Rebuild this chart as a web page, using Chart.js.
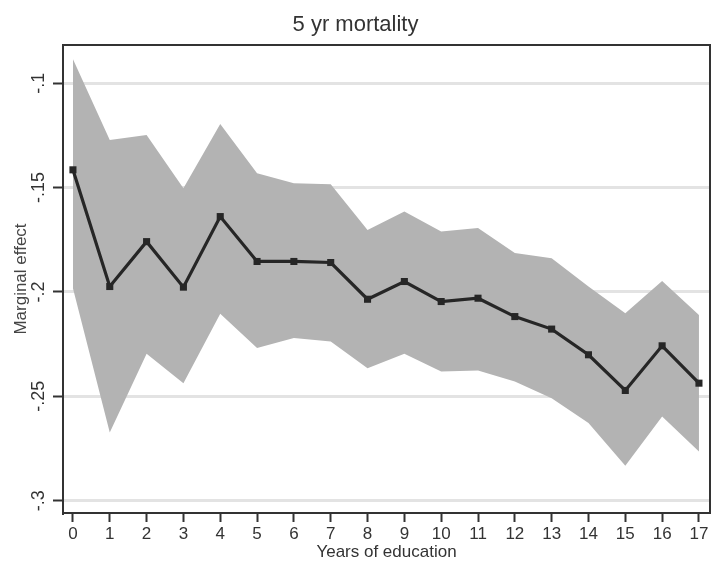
<!DOCTYPE html>
<html>
<head>
<meta charset="utf-8">
<script src="https://cdn.jsdelivr.net/npm/chart.js@4/dist/chart.umd.min.js"></script>
<style>
html,body{margin:0;padding:0;background:#fff;}
#wrap{width:715px;height:570px;position:relative;}
</style>
</head>
<body>
<div id="wrap"><canvas id="c" width="715" height="570"></canvas></div>
<script>
const years = [0,1,2,3,4,5,6,7,8,9,10,11,12,13,14,15,16,17];
const effect = [-0.1415,-0.1974,-0.1759,-0.1977,-0.1639,-0.1854,-0.1854,-0.1859,-0.2035,-0.1950,-0.2046,-0.2030,-0.2118,-0.2178,-0.2301,-0.2472,-0.2258,-0.2437];
const upper = [-0.0885,-0.1272,-0.1248,-0.1503,-0.1195,-0.1431,-0.1479,-0.1484,-0.1703,-0.1615,-0.1711,-0.1694,-0.1814,-0.1838,-0.1974,-0.2102,-0.1947,-0.2110];
const lower = [-0.1982,-0.2673,-0.2296,-0.2437,-0.2105,-0.2269,-0.2221,-0.2238,-0.2365,-0.2296,-0.2381,-0.2376,-0.2429,-0.2509,-0.2628,-0.2833,-0.2597,-0.2764];
const yTicks = [-0.1,-0.15,-0.2,-0.25,-0.3];
const xTicks = years;

const toPts = arr => years.map((x,i)=>({x:x,y:arr[i]}));
const fmt = v => { const s = (Math.round(v*1000)/1000).toString(); return s.replace('0.', '.'); };

const boxPlugin = {
  id:'box',
  afterDraw(chart){
    const a = chart.chartArea, c = chart.ctx;
    c.save();
    c.strokeStyle = '#333';
    c.lineWidth = 2;
    c.strokeRect(a.left, a.top, a.right-a.left, a.bottom-a.top);
    c.restore();
  }
};

new Chart(document.getElementById('c'), {
  type:'line',
  data:{
    datasets:[
      {label:'effect', data:toPts(effect), borderColor:'#262626', backgroundColor:'#262626', borderWidth:3.2,
       pointStyle:'rect', pointRadius:5, pointBorderWidth:0, fill:false, tension:0},
      {label:'upper', data:toPts(upper), borderWidth:0, borderColor:'rgba(0,0,0,0)', pointRadius:0,
       backgroundColor:'#b3b3b3', fill:'+1', tension:0},
      {label:'lower', data:toPts(lower), borderWidth:0, borderColor:'rgba(0,0,0,0)', pointRadius:0,
       fill:false, tension:0}
    ]
  },
  options:{
    responsive:false,
    animation:false,
    layout:{padding:{left:0,right:4,top:0,bottom:0}},
    plugins:{
      legend:{display:false},
      tooltip:{enabled:false},
      title:{display:true, text:'5 yr mortality', color:'#333',
             font:{family:'Liberation Sans', size:22, weight:'normal'}, padding:{top:12,bottom:6.6}}
    },
    scales:{
      x:{
        type:'linear', min:-0.27, max:17.3,
        afterBuildTicks: s => { s.ticks = xTicks.map(v=>({value:v})); },
        afterFit: s => { s.height = 57; },
        grid:{drawOnChartArea:false, drawTicks:true, tickLength:9, tickColor:'#333', tickWidth:2},
        border:{display:true, color:'#333', width:2},
        ticks:{color:'#333', font:{family:'Liberation Sans', size:17}, padding:2, maxRotation:0, minRotation:0,
               callback: v => String(v)},
        title:{display:true, text:'Years of education', color:'#333',
               font:{family:'Liberation Sans', size:17}, padding:{top:0,bottom:7}}
      },
      y:{
        type:'linear', min:-0.3059, max:-0.0817,
        afterBuildTicks: s => { s.ticks = yTicks.map(v=>({value:v})); },
        afterFit: s => { s.width = 63; },
        grid:{drawOnChartArea:true, color:'#e3e3e3', lineWidth:3, drawTicks:true, tickLength:10, tickColor:'#333', tickWidth:2},
        border:{display:true, color:'#333', width:2},
        ticks:{color:'#333', font:{family:'Liberation Sans', size:18}, padding:-2, minRotation:90, maxRotation:90,
               crossAlign:'center', callback: v => fmt(v)},
        title:{display:true, text:'Marginal effect', color:'#444',
               font:{family:'Liberation Sans', size:17}, padding:{top:11,bottom:0}}
      }
    }
  },
  plugins:[boxPlugin]
});
</script>
</body>
</html>
